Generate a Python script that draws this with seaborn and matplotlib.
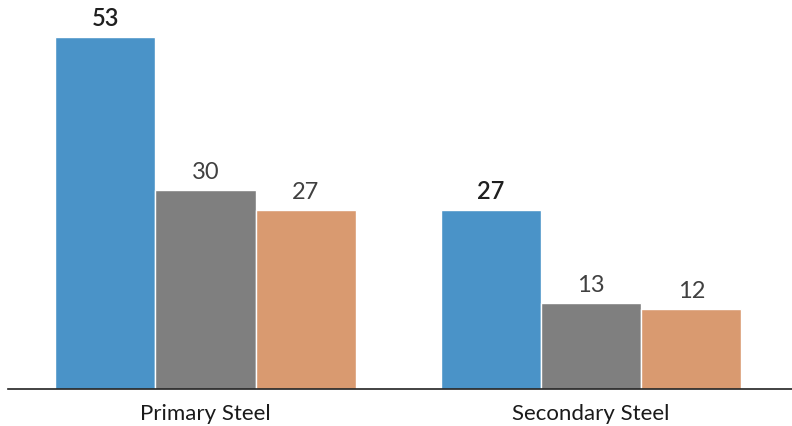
import matplotlib
matplotlib.use("Agg")
import matplotlib.pyplot as plt
import seaborn as sns
import pandas as pd

categories = ["Primary Steel", "Secondary Steel"]
series = ["A", "B", "C"]
values_a = [53, 27]
values_b = [30, 13]
values_c = [27, 12]
colors = ["#4A93C8", "#7F7F7F", "#D99A70"]

rows = []
for s, vals in zip(series, [values_a, values_b, values_c]):
    for c, v in zip(categories, vals):
        rows.append({"cat": c, "series": s, "value": v})
df = pd.DataFrame(rows)

sns.set_theme(style="white")
plt.rcParams['font.family'] = ['Lato', 'DejaVu Sans']

fig = plt.figure(figsize=(7.92, 4.26), dpi=100)
ax = fig.add_axes([8/792, 37/426, 784/792, 389/426])
sns.barplot(data=df, x="cat", y="value", hue="series", order=categories,
            hue_order=series, palette=colors, width=0.78, ax=ax,
            edgecolor="white", linewidth=1.0, saturation=1, legend=False)

for i, cont in enumerate(ax.containers):
    for bar, v in zip(cont, cont.datavalues):
        bold = (i == 0)
        ax.annotate(f"{int(v)}", (bar.get_x() + bar.get_width()/2, bar.get_height()),
                    xytext=(0, 5), textcoords="offset points", ha="center", va="bottom",
                    fontsize=17, color="#1f1f1f" if bold else "#404040",
                    fontweight="semibold" if bold else "normal")

ax.set_xlim(-0.512, 1.521)
ax.set_ylim(0, 58.6)
ax.set_xlabel("")
ax.set_ylabel("")
ax.set_yticks([])
ax.tick_params(axis="x", length=0, labelsize=16, colors="#1a1a1a", pad=11)
for sp in ["top", "right", "left"]:
    ax.spines[sp].set_visible(False)
ax.spines["bottom"].set_color("#222222")
ax.spines["bottom"].set_linewidth(1.2)

fig.savefig("out.png", dpi=100)
